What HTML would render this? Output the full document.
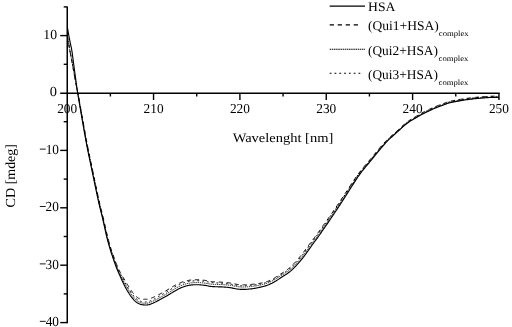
<!DOCTYPE html>
<html><head><meta charset="utf-8"><style>
html,body{margin:0;padding:0;background:#fff;}
svg{display:block;will-change:transform;text-rendering:geometricPrecision;}
text{font-family:"Liberation Serif",serif;fill:#000;}
</style></head><body>
<svg width="512" height="327" viewBox="0 0 512 327">
<rect width="512" height="327" fill="#fff"/>
<g stroke="#000" stroke-width="1.4" fill="none">
<line x1="67.25" y1="6.4" x2="67.25" y2="323.30" stroke-width="1.5"/>
<line x1="60.20" y1="93.28" x2="499.65" y2="93.28" stroke-width="1.45"/>
<line x1="63.70" y1="6.90" x2="67.20" y2="6.90"/><line x1="60.20" y1="35.60" x2="67.20" y2="35.60"/><line x1="63.70" y1="64.30" x2="67.20" y2="64.30"/><line x1="63.70" y1="121.70" x2="67.20" y2="121.70"/><line x1="60.20" y1="150.40" x2="67.20" y2="150.40"/><line x1="63.70" y1="179.10" x2="67.20" y2="179.10"/><line x1="60.20" y1="207.80" x2="67.20" y2="207.80"/><line x1="63.70" y1="236.50" x2="67.20" y2="236.50"/><line x1="60.20" y1="265.20" x2="67.20" y2="265.20"/><line x1="63.70" y1="293.90" x2="67.20" y2="293.90"/><line x1="60.20" y1="322.60" x2="67.20" y2="322.60"/><line x1="110.38" y1="93.00" x2="110.38" y2="96.50"/><line x1="153.55" y1="93.00" x2="153.55" y2="100.00"/><line x1="196.73" y1="93.00" x2="196.73" y2="96.50"/><line x1="239.90" y1="93.00" x2="239.90" y2="100.00"/><line x1="283.07" y1="93.00" x2="283.07" y2="96.50"/><line x1="326.25" y1="93.00" x2="326.25" y2="100.00"/><line x1="369.42" y1="93.00" x2="369.42" y2="96.50"/><line x1="412.60" y1="93.00" x2="412.60" y2="100.00"/><line x1="455.77" y1="93.00" x2="455.77" y2="96.50"/><line x1="498.95" y1="93.00" x2="498.95" y2="100.00"/>
</g>
<g fill="none" stroke="#000">
<path d="M67.40,36.30 L67.47,36.71 L67.56,37.26 L67.67,37.91 L67.79,38.64 L67.92,39.40 L68.05,40.18 L68.18,40.94 L68.30,41.64 L68.41,42.31 L68.52,42.98 L68.63,43.64 L68.74,44.31 L68.86,44.98 L68.97,45.65 L69.08,46.31 L69.20,46.98 L69.32,47.64 L69.44,48.30 L69.56,48.96 L69.69,49.62 L69.81,50.28 L69.94,50.95 L70.07,51.63 L70.20,52.32 L70.33,53.02 L70.46,53.72 L70.60,54.43 L70.73,55.15 L70.87,55.87 L71.01,56.62 L71.15,57.38 L71.30,58.16 L71.45,58.95 L71.60,59.74 L71.76,60.53 L71.91,61.35 L72.07,62.20 L72.24,63.08 L72.42,64.01 L72.60,65.00 L72.79,66.06 L73.00,67.20 L73.21,68.39 L73.42,69.61 L73.64,70.86 L73.87,72.10 L74.08,73.32 L74.30,74.50 L74.51,75.65 L74.72,76.77 L74.94,77.89 L75.15,79.00 L75.36,80.11 L75.58,81.23 L75.79,82.35 L76.00,83.50 L76.22,84.73 L76.46,86.06 L76.71,87.44 L76.96,88.81 L77.19,90.11 L77.39,91.28 L77.57,92.26 L77.70,93.00 L78.54,97.39 L79.46,102.81 L80.51,108.93 L81.64,115.47 L82.80,122.14 L83.95,128.64 L85.04,134.68 L86.00,139.96 L86.85,144.53 L87.66,148.66 L88.42,152.46 L89.16,156.02 L89.88,159.46 L90.60,162.86 L91.34,166.33 L92.10,169.96 L92.88,173.78 L93.69,177.69 L94.51,181.65 L95.33,185.58 L96.13,189.44 L96.92,193.16 L97.68,196.69 L98.40,199.96 L99.07,202.95 L99.72,205.73 L100.35,208.32 L100.96,210.76 L101.55,213.11 L102.12,215.39 L102.68,217.66 L103.22,219.95 L103.75,222.24 L104.26,224.50 L104.75,226.72 L105.22,228.88 L105.68,231.00 L106.14,233.04 L106.60,235.03 L107.06,236.94 L107.52,238.76 L107.97,240.48 L108.42,242.14 L108.86,243.74 L109.31,245.29 L109.76,246.83 L110.22,248.36 L110.71,249.91 L111.22,251.48 L111.76,253.08 L112.32,254.69 L112.88,256.27 L113.43,257.80 L113.95,259.26 L114.45,260.61 L114.89,261.83 L115.28,262.90 L115.63,263.83 L115.94,264.65 L116.22,265.39 L116.50,266.09 L116.78,266.78 L117.07,267.50 L117.39,268.26 L117.73,269.04 L118.05,269.78 L118.37,270.51 L118.71,271.25 L119.07,272.01 L119.46,272.82 L119.89,273.70 L120.36,274.66 L120.89,275.74 L121.47,276.93 L122.08,278.19 L122.73,279.50 L123.38,280.81 L124.03,282.10 L124.67,283.32 L125.28,284.46 L125.86,285.53 L126.45,286.57 L127.04,287.59 L127.63,288.56 L128.20,289.50 L128.76,290.40 L129.30,291.25 L129.82,292.05 L130.30,292.78 L130.76,293.44 L131.19,294.05 L131.59,294.63 L131.99,295.17 L132.38,295.70 L132.79,296.22 L133.20,296.74 L133.62,297.26 L134.02,297.75 L134.42,298.23 L134.80,298.67 L135.19,299.09 L135.58,299.48 L135.98,299.85 L136.40,300.21 L136.84,300.55 L137.32,300.88 L137.81,301.20 L138.31,301.51 L138.82,301.79 L139.33,302.05 L139.83,302.28 L140.31,302.48 L140.78,302.66 L141.24,302.80 L141.69,302.92 L142.14,303.02 L142.60,303.10 L143.08,303.16 L143.58,303.21 L144.11,303.24 L144.67,303.26 L145.23,303.27 L145.79,303.27 L146.35,303.26 L146.91,303.21 L147.49,303.15 L148.07,303.04 L148.68,302.91 L149.31,302.72 L149.99,302.49 L150.71,302.21 L151.46,301.91 L152.22,301.57 L153.00,301.21 L153.78,300.85 L154.55,300.48 L155.29,300.12 L156.04,299.73 L156.79,299.32 L157.55,298.90 L158.32,298.47 L159.09,298.04 L159.87,297.60 L160.65,297.17 L161.41,296.76 L162.14,296.37 L162.86,295.98 L163.57,295.60 L164.29,295.20 L165.04,294.78 L165.84,294.32 L166.68,293.83 L167.60,293.27 L168.61,292.65 L169.68,291.97 L170.78,291.28 L171.89,290.59 L172.97,289.91 L174.00,289.29 L174.95,288.73 L175.81,288.24 L176.60,287.79 L177.35,287.39 L178.07,287.01 L178.77,286.65 L179.48,286.31 L180.20,285.98 L180.94,285.66 L181.71,285.34 L182.48,285.04 L183.25,284.76 L184.03,284.49 L184.81,284.24 L185.58,284.01 L186.36,283.79 L187.14,283.59 L187.92,283.42 L188.69,283.26 L189.46,283.13 L190.23,283.01 L190.99,282.91 L191.74,282.82 L192.50,282.74 L193.26,282.68 L194.03,282.63 L194.81,282.59 L195.58,282.56 L196.35,282.55 L197.12,282.55 L197.89,282.56 L198.65,282.58 L199.42,282.61 L200.19,282.65 L200.96,282.70 L201.73,282.77 L202.50,282.84 L203.26,282.92 L204.01,283.01 L204.76,283.11 L205.52,283.21 L206.30,283.32 L207.07,283.45 L207.81,283.59 L208.54,283.73 L209.25,283.87 L209.93,283.99 L210.60,284.10 L211.26,284.18 L211.94,284.24 L212.62,284.29 L213.33,284.33 L214.04,284.36 L214.77,284.38 L215.50,284.40 L216.25,284.42 L216.99,284.45 L217.71,284.47 L218.42,284.49 L219.13,284.50 L219.85,284.52 L220.58,284.53 L221.34,284.56 L222.13,284.59 L222.94,284.63 L223.77,284.68 L224.62,284.73 L225.50,284.78 L226.40,284.85 L227.32,284.92 L228.25,285.00 L229.19,285.11 L230.15,285.23 L231.13,285.38 L232.12,285.57 L233.10,285.77 L234.06,285.98 L235.00,286.18 L235.90,286.36 L236.74,286.52 L237.54,286.65 L238.31,286.75 L239.06,286.83 L239.77,286.90 L240.46,286.96 L241.14,287.00 L241.84,287.03 L242.55,287.04 L243.28,287.04 L244.05,287.03 L244.84,287.00 L245.66,286.95 L246.49,286.89 L247.33,286.82 L248.16,286.74 L248.97,286.66 L249.75,286.58 L250.49,286.52 L251.19,286.46 L251.86,286.39 L252.52,286.32 L253.17,286.24 L253.83,286.16 L254.50,286.06 L255.20,285.96 L255.93,285.84 L256.71,285.71 L257.51,285.56 L258.32,285.40 L259.12,285.25 L259.88,285.09 L260.59,284.95 L261.23,284.82 L261.77,284.71 L262.23,284.62 L262.60,284.54 L262.93,284.47 L263.23,284.41 L263.55,284.33 L263.92,284.23 L264.37,284.09 L264.90,283.93 L265.47,283.75 L266.06,283.56 L266.68,283.36 L267.31,283.14 L267.95,282.91 L268.58,282.66 L269.22,282.40 L269.87,282.12 L270.54,281.81 L271.22,281.49 L271.92,281.15 L272.61,280.79 L273.31,280.43 L274.00,280.05 L274.68,279.67 L275.34,279.28 L276.01,278.86 L276.69,278.42 L277.38,277.96 L278.07,277.49 L278.77,277.02 L279.48,276.56 L280.18,276.11 L280.88,275.67 L281.57,275.26 L282.25,274.86 L282.91,274.48 L283.56,274.09 L284.21,273.70 L284.85,273.30 L285.50,272.87 L286.17,272.41 L286.84,271.95 L287.51,271.48 L288.18,271.00 L288.85,270.50 L289.51,269.99 L290.17,269.46 L290.82,268.90 L291.48,268.33 L292.13,267.72 L292.78,267.10 L293.44,266.45 L294.10,265.78 L294.76,265.10 L295.43,264.40 L296.10,263.68 L296.77,262.96 L297.45,262.23 L298.13,261.48 L298.81,260.72 L299.48,259.94 L300.16,259.15 L300.83,258.34 L301.51,257.51 L302.18,256.67 L302.85,255.80 L303.52,254.92 L304.20,254.01 L304.88,253.09 L305.56,252.17 L306.24,251.23 L306.93,250.30 L307.62,249.37 L308.30,248.43 L308.98,247.49 L309.66,246.54 L310.35,245.58 L311.05,244.61 L311.76,243.63 L312.49,242.64 L313.25,241.63 L314.03,240.59 L314.82,239.53 L315.62,238.47 L316.41,237.42 L317.19,236.39 L317.94,235.37 L318.65,234.40 L319.33,233.45 L319.97,232.53 L320.60,231.62 L321.21,230.72 L321.82,229.84 L322.41,228.97 L323.00,228.10 L323.60,227.25 L324.15,226.46 L324.65,225.78 L325.11,225.14 L325.57,224.51 L326.07,223.82 L326.65,223.02 L327.32,222.06 L328.14,220.88 L329.13,219.45 L330.27,217.80 L331.52,215.97 L332.83,214.04 L334.18,212.06 L335.52,210.08 L336.81,208.16 L338.02,206.35 L339.13,204.68 L340.16,203.10 L341.16,201.57 L342.15,200.05 L343.16,198.49 L344.21,196.86 L345.35,195.11 L346.59,193.21 L347.94,191.11 L349.39,188.84 L350.92,186.44 L352.50,183.97 L354.11,181.48 L355.72,179.03 L357.33,176.66 L358.91,174.45 L360.46,172.37 L362.01,170.38 L363.57,168.46 L365.12,166.59 L366.67,164.76 L368.22,162.94 L369.76,161.12 L371.30,159.28 L372.88,157.36 L374.50,155.39 L376.14,153.39 L377.77,151.41 L379.35,149.49 L380.87,147.67 L382.29,146.00 L383.58,144.52 L384.72,143.26 L385.73,142.18 L386.63,141.25 L387.46,140.42 L388.26,139.66 L389.05,138.92 L389.87,138.16 L390.75,137.33 L391.69,136.46 L392.67,135.58 L393.66,134.70 L394.65,133.83 L395.63,132.98 L396.59,132.15 L397.52,131.34 L398.39,130.57 L399.22,129.83 L400.00,129.10 L400.75,128.40 L401.48,127.71 L402.19,127.05 L402.89,126.40 L403.60,125.78 L404.31,125.17 L405.02,124.59 L405.72,124.03 L406.41,123.49 L407.09,122.98 L407.77,122.48 L408.45,121.99 L409.14,121.52 L409.83,121.05 L410.53,120.60 L411.21,120.18 L411.88,119.77 L412.56,119.38 L413.25,118.99 L413.96,118.59 L414.69,118.17 L415.45,117.74 L416.25,117.28 L417.08,116.80 L417.94,116.30 L418.82,115.80 L419.71,115.29 L420.60,114.79 L421.49,114.30 L422.36,113.83 L423.22,113.38 L424.09,112.94 L424.95,112.51 L425.82,112.08 L426.68,111.66 L427.55,111.25 L428.41,110.84 L429.27,110.43 L430.14,110.02 L431.00,109.62 L431.87,109.22 L432.73,108.82 L433.60,108.43 L434.46,108.05 L435.33,107.68 L436.19,107.32 L437.04,106.98 L437.90,106.65 L438.75,106.33 L439.60,106.02 L440.45,105.72 L441.30,105.42 L442.15,105.12 L443.00,104.82 L443.83,104.52 L444.62,104.21 L445.41,103.91 L446.20,103.60 L447.03,103.30 L447.92,103.00 L448.88,102.71 L449.93,102.43 L451.09,102.14 L452.35,101.87 L453.67,101.59 L455.05,101.32 L456.46,101.06 L457.88,100.81 L459.29,100.57 L460.66,100.34 L462.00,100.12 L463.36,99.92 L464.71,99.72 L466.07,99.53 L467.42,99.35 L468.77,99.18 L470.12,99.02 L471.47,98.85 L472.83,98.70 L474.22,98.54 L475.62,98.39 L477.01,98.25 L478.38,98.12 L479.71,97.99 L480.98,97.88 L482.18,97.77 L483.31,97.68 L484.40,97.60 L485.45,97.53 L486.44,97.47 L487.40,97.41 L488.30,97.36 L489.17,97.32 L489.99,97.28 L490.76,97.25 L491.47,97.23 L492.12,97.21 L492.74,97.19 L493.33,97.19 L493.89,97.18 L494.45,97.19 L495.00,97.19 L495.57,97.20 L496.15,97.23 L496.73,97.26 L497.27,97.29 L497.78,97.32 L498.24,97.35 L498.62,97.38 L498.91,97.40" stroke-width="0.9" stroke-dasharray="1.3 0.85"/>
<path d="M67.40,35.90 L67.47,36.32 L67.56,36.87 L67.67,37.54 L67.79,38.27 L67.92,39.05 L68.05,39.84 L68.18,40.61 L68.30,41.32 L68.41,42.00 L68.52,42.67 L68.63,43.35 L68.74,44.03 L68.86,44.71 L68.97,45.39 L69.08,46.06 L69.20,46.74 L69.32,47.41 L69.44,48.08 L69.56,48.75 L69.69,49.42 L69.81,50.09 L69.94,50.77 L70.07,51.46 L70.20,52.16 L70.33,52.87 L70.46,53.58 L70.60,54.30 L70.73,55.03 L70.87,55.76 L71.01,56.52 L71.15,57.29 L71.30,58.08 L71.45,58.88 L71.60,59.68 L71.76,60.49 L71.91,61.32 L72.07,62.17 L72.24,63.07 L72.42,64.00 L72.60,65.00 L72.79,66.07 L73.00,67.21 L73.21,68.40 L73.42,69.62 L73.64,70.86 L73.87,72.10 L74.08,73.32 L74.30,74.50 L74.51,75.65 L74.72,76.77 L74.94,77.89 L75.15,79.00 L75.36,80.11 L75.58,81.23 L75.79,82.35 L76.00,83.50 L76.22,84.73 L76.46,86.06 L76.71,87.44 L76.96,88.81 L77.19,90.11 L77.39,91.28 L77.57,92.26 L77.70,93.00 L78.64,97.38 L79.58,102.79 L80.64,108.91 L81.79,115.45 L82.97,122.11 L84.13,128.61 L85.23,134.64 L86.19,139.93 L87.05,144.49 L87.85,148.62 L88.62,152.42 L89.35,155.98 L90.08,159.41 L90.80,162.82 L91.53,166.28 L92.29,169.92 L93.08,173.74 L93.89,177.65 L94.71,181.61 L95.52,185.54 L96.33,189.40 L97.12,193.12 L97.87,196.64 L98.59,199.91 L99.27,202.91 L99.92,205.68 L100.54,208.27 L101.15,210.71 L101.74,213.06 L102.31,215.35 L102.87,217.61 L103.42,219.90 L103.95,222.20 L104.45,224.46 L104.94,226.68 L105.41,228.84 L105.88,230.95 L106.34,233.00 L106.79,234.98 L107.25,236.89 L107.71,238.71 L108.17,240.43 L108.61,242.09 L109.06,243.68 L109.50,245.24 L109.95,246.77 L110.41,248.31 L110.90,249.85 L111.42,251.42 L111.97,253.02 L112.53,254.62 L113.10,256.20 L113.65,257.72 L114.18,259.18 L114.68,260.53 L115.13,261.75 L115.53,262.81 L115.87,263.74 L116.19,264.56 L116.48,265.30 L116.76,266.00 L117.04,266.68 L117.33,267.39 L117.66,268.16 L117.99,268.93 L118.32,269.67 L118.65,270.40 L118.99,271.13 L119.37,271.88 L119.77,272.68 L120.22,273.55 L120.71,274.50 L121.26,275.58 L121.86,276.76 L122.50,278.01 L123.17,279.30 L123.85,280.59 L124.53,281.86 L125.20,283.07 L125.83,284.18 L126.43,285.23 L127.04,286.25 L127.65,287.25 L128.25,288.21 L128.85,289.13 L129.43,290.00 L129.99,290.84 L130.52,291.61 L131.02,292.32 L131.49,292.96 L131.93,293.55 L132.34,294.10 L132.74,294.63 L133.14,295.13 L133.54,295.63 L133.97,296.14 L134.39,296.64 L134.80,297.12 L135.20,297.57 L135.58,297.98 L135.96,298.37 L136.33,298.72 L136.71,299.05 L137.10,299.35 L137.52,299.65 L137.97,299.95 L138.44,300.23 L138.92,300.49 L139.40,300.74 L139.87,300.97 L140.33,301.18 L140.78,301.35 L141.20,301.50 L141.60,301.62 L142.00,301.71 L142.40,301.79 L142.81,301.85 L143.24,301.90 L143.70,301.93 L144.19,301.95 L144.73,301.97 L145.26,301.97 L145.78,301.96 L146.29,301.94 L146.79,301.89 L147.30,301.82 L147.81,301.72 L148.34,301.59 L148.91,301.41 L149.53,301.19 L150.20,300.92 L150.91,300.61 L151.65,300.27 L152.40,299.91 L153.17,299.54 L153.92,299.17 L154.64,298.80 L155.35,298.42 L156.09,298.01 L156.83,297.59 L157.59,297.15 L158.35,296.71 L159.13,296.26 L159.91,295.81 L160.67,295.38 L161.40,294.98 L162.11,294.59 L162.82,294.19 L163.53,293.79 L164.27,293.37 L165.04,292.92 L165.87,292.43 L166.77,291.88 L167.77,291.26 L168.83,290.58 L169.92,289.89 L171.03,289.18 L172.11,288.50 L173.16,287.86 L174.13,287.28 L175.00,286.78 L175.81,286.32 L176.57,285.90 L177.31,285.51 L178.04,285.13 L178.78,284.77 L179.53,284.43 L180.30,284.09 L181.09,283.76 L181.89,283.44 L182.70,283.15 L183.50,282.86 L184.31,282.60 L185.12,282.35 L185.94,282.12 L186.75,281.91 L187.57,281.72 L188.39,281.55 L189.20,281.40 L190.00,281.28 L190.79,281.17 L191.58,281.07 L192.36,280.99 L193.14,280.92 L193.95,280.86 L194.75,280.82 L195.56,280.79 L196.36,280.77 L197.15,280.77 L197.94,280.78 L198.73,280.79 L199.52,280.82 L200.31,280.85 L201.11,280.93 L201.90,281.01 L202.69,281.10 L203.46,281.20 L204.23,281.30 L204.99,281.41 L205.77,281.53 L206.58,281.66 L207.37,281.82 L208.13,281.97 L208.86,282.13 L209.55,282.27 L210.21,282.41 L210.84,282.52 L211.45,282.61 L212.08,282.68 L212.73,282.74 L213.41,282.79 L214.10,282.84 L214.82,282.87 L215.55,282.91 L216.31,282.94 L217.05,282.98 L217.77,283.02 L218.46,283.06 L219.16,283.08 L219.89,283.11 L220.63,283.14 L221.40,283.18 L222.20,283.23 L223.03,283.29 L223.86,283.35 L224.71,283.42 L225.59,283.49 L226.50,283.57 L227.43,283.67 L228.38,283.77 L229.34,283.89 L230.32,284.03 L231.33,284.20 L232.35,284.39 L233.35,284.60 L234.31,284.81 L235.25,285.01 L236.13,285.19 L236.95,285.34 L237.71,285.46 L238.46,285.56 L239.18,285.64 L239.87,285.71 L240.54,285.76 L241.20,285.80 L241.87,285.83 L242.56,285.84 L243.27,285.84 L244.01,285.83 L244.78,285.80 L245.58,285.75 L246.40,285.69 L247.22,285.62 L248.04,285.54 L248.85,285.47 L249.63,285.39 L250.36,285.34 L251.05,285.29 L251.71,285.23 L252.36,285.18 L253.00,285.11 L253.65,285.04 L254.31,284.95 L255.00,284.86 L255.72,284.76 L256.49,284.64 L257.29,284.50 L258.09,284.36 L258.89,284.22 L259.65,284.07 L260.36,283.94 L261.00,283.82 L261.55,283.72 L262.00,283.63 L262.38,283.56 L262.69,283.50 L262.97,283.45 L263.27,283.38 L263.62,283.29 L264.07,283.17 L264.59,283.01 L265.16,282.85 L265.75,282.67 L266.36,282.48 L266.98,282.27 L267.60,282.06 L268.23,281.83 L268.85,281.58 L269.49,281.30 L270.15,281.00 L270.82,280.68 L271.50,280.35 L272.19,280.00 L272.87,279.64 L273.55,279.27 L274.22,278.90 L274.86,278.52 L275.52,278.11 L276.19,277.68 L276.87,277.22 L277.56,276.76 L278.26,276.28 L278.97,275.81 L279.69,275.35 L280.40,274.91 L281.10,274.49 L281.78,274.10 L282.44,273.71 L283.09,273.33 L283.72,272.94 L284.35,272.55 L284.99,272.13 L285.65,271.68 L286.32,271.22 L286.98,270.75 L287.64,270.28 L288.29,269.79 L288.94,269.29 L289.59,268.77 L290.23,268.23 L290.86,267.67 L291.50,267.08 L292.15,266.46 L292.79,265.82 L293.44,265.16 L294.10,264.48 L294.76,263.79 L295.43,263.08 L296.10,262.36 L296.78,261.63 L297.45,260.89 L298.12,260.13 L298.80,259.36 L299.47,258.58 L300.14,257.78 L300.81,256.96 L301.48,256.13 L302.15,255.28 L302.83,254.40 L303.50,253.50 L304.18,252.59 L304.87,251.66 L305.55,250.73 L306.25,249.80 L306.93,248.88 L307.61,247.95 L308.30,247.01 L308.98,246.06 L309.68,245.11 L310.38,244.14 L311.10,243.16 L311.84,242.17 L312.60,241.15 L313.38,240.11 L314.18,239.06 L314.99,238.00 L315.78,236.96 L316.56,235.92 L317.31,234.92 L318.02,233.95 L318.70,233.02 L319.35,232.10 L319.98,231.19 L320.59,230.30 L321.19,229.42 L321.79,228.55 L322.39,227.68 L322.99,226.83 L323.55,226.04 L324.05,225.35 L324.52,224.72 L324.98,224.09 L325.49,223.40 L326.06,222.61 L326.74,221.66 L327.56,220.49 L328.55,219.06 L329.70,217.41 L330.95,215.59 L332.28,213.67 L333.64,211.70 L334.99,209.72 L336.29,207.81 L337.51,206.02 L338.62,204.35 L339.67,202.78 L340.67,201.26 L341.67,199.74 L342.68,198.19 L343.75,196.56 L344.89,194.82 L346.14,192.92 L347.51,190.83 L348.97,188.57 L350.51,186.18 L352.10,183.71 L353.73,181.23 L355.36,178.78 L356.99,176.43 L358.58,174.21 L360.14,172.13 L361.70,170.13 L363.26,168.21 L364.82,166.35 L366.38,164.51 L367.93,162.70 L369.48,160.88 L371.02,159.04 L372.59,157.13 L374.22,155.16 L375.86,153.16 L377.49,151.18 L379.08,149.27 L380.61,147.45 L382.03,145.78 L383.33,144.30 L384.47,143.03 L385.48,141.95 L386.39,141.02 L387.23,140.19 L388.03,139.42 L388.82,138.68 L389.64,137.92 L390.53,137.10 L391.48,136.22 L392.45,135.34 L393.45,134.47 L394.44,133.60 L395.43,132.75 L396.39,131.92 L397.31,131.11 L398.19,130.34 L399.01,129.60 L399.79,128.88 L400.54,128.17 L401.26,127.48 L401.96,126.81 L402.67,126.15 L403.37,125.52 L404.08,124.90 L404.79,124.31 L405.49,123.74 L406.17,123.19 L406.86,122.67 L407.54,122.16 L408.22,121.66 L408.91,121.18 L409.60,120.70 L410.30,120.24 L410.98,119.80 L411.66,119.39 L412.34,118.98 L413.03,118.58 L413.73,118.18 L414.45,117.76 L415.21,117.32 L416.00,116.85 L416.83,116.36 L417.68,115.85 L418.56,115.34 L419.44,114.82 L420.33,114.31 L421.22,113.81 L422.09,113.33 L422.96,112.87 L423.82,112.41 L424.69,111.97 L425.55,111.54 L426.42,111.12 L427.29,110.71 L428.15,110.29 L429.02,109.89 L429.88,109.48 L430.75,109.07 L431.62,108.67 L432.48,108.27 L433.35,107.88 L434.22,107.50 L435.09,107.13 L435.96,106.77 L436.83,106.42 L437.69,106.09 L438.54,105.77 L439.39,105.46 L440.25,105.16 L441.10,104.86 L441.95,104.56 L442.79,104.25 L443.61,103.95 L444.40,103.65 L445.19,103.34 L445.99,103.03 L446.83,102.72 L447.73,102.42 L448.71,102.12 L449.78,101.83 L450.95,101.54 L452.22,101.26 L453.55,100.98 L454.94,100.71 L456.35,100.45 L457.77,100.19 L459.18,99.94 L460.55,99.71 L461.91,99.49 L463.26,99.28 L464.62,99.09 L465.98,98.90 L467.34,98.71 L468.69,98.54 L470.04,98.37 L471.39,98.21 L472.76,98.05 L474.15,97.90 L475.55,97.76 L476.95,97.62 L478.32,97.48 L479.65,97.36 L480.92,97.25 L482.13,97.14 L483.27,97.05 L484.36,96.97 L485.40,96.90 L486.40,96.84 L487.36,96.79 L488.27,96.75 L489.14,96.70 L489.96,96.67 L490.73,96.64 L491.44,96.61 L492.11,96.59 L492.73,96.58 L493.32,96.58 L493.89,96.57 L494.45,96.58 L495.01,96.58 L495.59,96.60 L496.18,96.62 L496.76,96.65 L497.31,96.69 L497.82,96.72 L498.28,96.75 L498.66,96.78 L498.95,96.80" stroke-width="1.0" stroke-dasharray="1.8 3"/>
<path d="M67.40,35.50 L67.47,35.92 L67.56,36.49 L67.67,37.16 L67.79,37.91 L67.92,38.70 L68.05,39.50 L68.18,40.27 L68.30,41.00 L68.41,41.69 L68.52,42.38 L68.63,43.06 L68.74,43.75 L68.86,44.44 L68.97,45.12 L69.08,45.81 L69.20,46.50 L69.32,47.18 L69.44,47.86 L69.56,48.54 L69.69,49.22 L69.81,49.90 L69.94,50.59 L70.07,51.29 L70.20,52.00 L70.33,52.72 L70.46,53.44 L70.60,54.17 L70.73,54.91 L70.87,55.65 L71.01,56.42 L71.15,57.20 L71.30,58.00 L71.45,58.81 L71.60,59.62 L71.76,60.44 L71.91,61.28 L72.07,62.15 L72.24,63.05 L72.42,64.00 L72.60,65.00 L72.79,66.07 L73.00,67.21 L73.21,68.40 L73.42,69.62 L73.64,70.86 L73.87,72.10 L74.08,73.32 L74.30,74.50 L74.51,75.65 L74.72,76.77 L74.94,77.89 L75.15,79.00 L75.36,80.11 L75.58,81.23 L75.79,82.35 L76.00,83.50 L76.22,84.73 L76.46,86.06 L76.71,87.44 L76.96,88.81 L77.19,90.11 L77.39,91.28 L77.57,92.26 L77.70,93.00 L78.75,97.36 L79.70,102.77 L80.77,108.89 L81.94,115.42 L83.13,122.08 L84.31,128.58 L85.43,134.61 L86.40,139.89 L87.26,144.45 L88.07,148.58 L88.83,152.37 L89.58,155.93 L90.30,159.37 L91.03,162.77 L91.77,166.23 L92.53,169.87 L93.33,173.69 L94.14,177.60 L94.96,181.56 L95.78,185.49 L96.60,189.34 L97.39,193.06 L98.15,196.58 L98.87,199.85 L99.55,202.84 L100.21,205.61 L100.84,208.20 L101.45,210.64 L102.04,212.98 L102.62,215.27 L103.19,217.54 L103.74,219.83 L104.28,222.13 L104.79,224.39 L105.28,226.60 L105.76,228.77 L106.22,230.88 L106.69,232.92 L107.15,234.90 L107.61,236.80 L108.08,238.61 L108.53,240.34 L108.98,241.99 L109.43,243.58 L109.88,245.13 L110.33,246.66 L110.79,248.19 L111.29,249.73 L111.81,251.29 L112.37,252.89 L112.93,254.49 L113.50,256.06 L114.06,257.58 L114.60,259.03 L115.11,260.38 L115.56,261.60 L115.96,262.66 L116.31,263.58 L116.63,264.40 L116.92,265.13 L117.20,265.83 L117.48,266.51 L117.78,267.22 L118.11,267.98 L118.45,268.75 L118.77,269.48 L119.10,270.20 L119.45,270.93 L119.87,271.66 L120.31,272.44 L120.80,273.29 L121.33,274.22 L121.94,275.27 L122.60,276.43 L123.30,277.65 L124.03,278.91 L124.77,280.17 L125.51,281.40 L126.24,282.56 L126.90,283.64 L127.49,284.67 L128.09,285.68 L128.70,286.66 L129.30,287.61 L129.89,288.52 L130.46,289.39 L131.02,290.21 L131.54,290.98 L132.04,291.68 L132.49,292.31 L132.92,292.88 L133.35,293.39 L133.77,293.88 L134.19,294.34 L134.62,294.80 L135.07,295.27 L135.52,295.74 L135.95,296.19 L136.36,296.59 L136.75,296.95 L137.13,297.27 L137.49,297.55 L137.84,297.79 L138.20,298.01 L138.60,298.22 L139.02,298.44 L139.46,298.64 L139.91,298.82 L140.36,298.98 L140.80,299.12 L141.22,299.24 L141.60,299.32 L141.96,299.37 L142.29,299.40 L142.60,299.41 L142.91,299.41 L143.22,299.39 L143.56,299.36 L143.94,299.32 L144.37,299.28 L144.85,299.22 L145.32,299.19 L145.75,299.24 L146.16,299.27 L146.55,299.29 L146.94,299.29 L147.34,299.28 L147.74,299.24 L148.21,299.16 L148.76,299.03 L149.39,298.85 L150.07,298.63 L150.80,298.35 L151.55,298.04 L152.32,297.72 L153.07,297.40 L153.78,297.08 L154.49,296.76 L155.22,296.40 L155.97,296.03 L156.74,295.63 L157.53,295.23 L158.33,294.81 L159.15,294.40 L159.94,294.01 L160.69,293.64 L161.42,293.28 L162.14,292.93 L162.86,292.57 L163.59,292.16 L164.36,291.72 L165.18,291.25 L166.07,290.71 L167.07,290.11 L168.13,289.45 L169.23,288.76 L170.34,288.07 L171.44,287.39 L172.51,286.75 L173.50,286.17 L174.39,285.67 L175.21,285.22 L175.99,284.80 L176.75,284.40 L177.51,284.02 L178.27,283.66 L179.04,283.31 L179.84,282.97 L180.66,282.64 L181.48,282.32 L182.31,282.03 L183.14,281.74 L183.98,281.48 L184.81,281.23 L185.65,281.01 L186.50,280.80 L187.35,280.61 L188.19,280.44 L189.03,280.30 L189.85,280.18 L190.67,280.07 L191.47,279.99 L192.27,279.91 L193.07,279.85 L193.89,279.80 L194.72,279.76 L195.54,279.74 L196.36,279.73 L197.17,279.74 L197.98,279.75 L198.77,279.78 L199.57,279.81 L200.38,279.86 L201.19,279.93 L202.00,280.01 L202.79,280.10 L203.58,280.20 L204.36,280.31 L205.12,280.42 L205.91,280.54 L206.74,280.68 L207.56,280.83 L208.33,280.99 L209.05,281.15 L209.74,281.29 L210.38,281.42 L210.98,281.53 L211.56,281.62 L212.16,281.69 L212.80,281.75 L213.46,281.80 L214.15,281.84 L214.86,281.87 L215.59,281.91 L216.34,281.94 L217.09,281.99 L217.80,282.02 L218.49,282.06 L219.19,282.08 L219.91,282.11 L220.66,282.14 L221.44,282.18 L222.25,282.23 L223.09,282.29 L223.93,282.35 L224.78,282.42 L225.67,282.50 L226.58,282.58 L227.52,282.67 L228.48,282.78 L229.46,282.90 L230.47,283.05 L231.51,283.22 L232.54,283.42 L233.55,283.63 L234.52,283.84 L235.45,284.05 L236.31,284.23 L237.11,284.39 L237.85,284.51 L238.58,284.60 L239.29,284.69 L239.96,284.76 L240.61,284.82 L241.25,284.86 L241.90,284.89 L242.57,284.90 L243.27,284.91 L243.98,284.90 L244.73,284.88 L245.52,284.83 L246.32,284.78 L247.14,284.71 L247.96,284.64 L248.76,284.57 L249.53,284.49 L250.26,284.46 L250.94,284.42 L251.60,284.37 L252.24,284.33 L252.87,284.27 L253.51,284.21 L254.17,284.14 L254.85,284.06 L255.57,283.97 L256.33,283.86 L257.12,283.74 L257.93,283.61 L258.72,283.48 L259.48,283.35 L260.19,283.23 L260.84,283.11 L261.39,283.02 L261.85,282.94 L262.22,282.88 L262.52,282.83 L262.79,282.78 L263.08,282.72 L263.42,282.64 L263.86,282.52 L264.38,282.38 L264.94,282.22 L265.53,282.06 L266.14,281.88 L266.75,281.68 L267.37,281.48 L267.99,281.26 L268.60,281.03 L269.23,280.75 L269.88,280.45 L270.54,280.13 L271.22,279.80 L271.89,279.45 L272.57,279.09 L273.24,278.73 L273.89,278.36 L274.52,277.98 L275.16,277.57 L275.82,277.14 L276.49,276.68 L277.18,276.21 L277.88,275.74 L278.60,275.26 L279.32,274.79 L280.04,274.34 L280.74,273.91 L281.42,273.51 L282.08,273.12 L282.72,272.73 L283.35,272.35 L283.96,271.96 L284.59,271.55 L285.24,271.10 L285.90,270.64 L286.55,270.17 L287.20,269.70 L287.84,269.21 L288.48,268.72 L289.11,268.21 L289.73,267.68 L290.35,267.12 L290.98,266.54 L291.61,265.93 L292.24,265.29 L292.89,264.63 L293.54,263.96 L294.19,263.26 L294.86,262.55 L295.52,261.83 L296.19,261.10 L296.85,260.36 L297.52,259.61 L298.19,258.85 L298.86,258.07 L299.53,257.28 L300.20,256.48 L300.87,255.66 L301.53,254.81 L302.21,253.94 L302.88,253.05 L303.57,252.14 L304.25,251.22 L304.95,250.29 L305.64,249.37 L306.33,248.44 L307.01,247.52 L307.70,246.58 L308.39,245.64 L309.09,244.69 L309.80,243.72 L310.52,242.74 L311.26,241.75 L312.03,240.73 L312.82,239.69 L313.62,238.64 L314.43,237.59 L315.23,236.55 L316.01,235.52 L316.77,234.52 L317.48,233.56 L318.15,232.64 L318.80,231.72 L319.43,230.83 L320.05,229.94 L320.65,229.06 L321.26,228.19 L321.86,227.32 L322.47,226.46 L323.04,225.68 L323.54,224.99 L324.01,224.35 L324.48,223.72 L324.98,223.04 L325.55,222.26 L326.23,221.31 L327.06,220.14 L328.06,218.72 L329.21,217.08 L330.47,215.27 L331.80,213.35 L333.17,211.38 L334.52,209.42 L335.83,207.51 L337.06,205.72 L338.18,204.06 L339.22,202.50 L340.23,200.98 L341.23,199.46 L342.25,197.91 L343.33,196.29 L344.48,194.55 L345.73,192.66 L347.11,190.58 L348.58,188.32 L350.12,185.94 L351.72,183.48 L353.36,181.00 L355.01,178.55 L356.64,176.19 L358.25,173.97 L359.83,171.89 L361.39,169.89 L362.96,167.97 L364.53,166.10 L366.09,164.27 L367.64,162.46 L369.19,160.64 L370.73,158.80 L372.31,156.90 L373.93,154.93 L375.58,152.93 L377.22,150.96 L378.81,149.04 L380.34,147.23 L381.77,145.56 L383.07,144.07 L384.22,142.80 L385.24,141.72 L386.15,140.78 L387.00,139.95 L387.80,139.18 L388.60,138.44 L389.42,137.68 L390.31,136.86 L391.26,135.99 L392.24,135.11 L393.24,134.23 L394.24,133.36 L395.22,132.51 L396.19,131.69 L397.11,130.89 L397.98,130.12 L398.81,129.38 L399.59,128.66 L400.33,127.95 L401.05,127.26 L401.75,126.58 L402.46,125.92 L403.16,125.28 L403.88,124.65 L404.59,124.06 L405.29,123.48 L405.98,122.93 L406.66,122.40 L407.35,121.89 L408.03,121.39 L408.72,120.90 L409.41,120.42 L410.11,119.95 L410.80,119.51 L411.48,119.09 L412.16,118.68 L412.85,118.28 L413.55,117.87 L414.28,117.45 L415.03,117.00 L415.82,116.53 L416.65,116.04 L417.50,115.53 L418.37,115.01 L419.26,114.49 L420.15,113.98 L421.03,113.47 L421.91,112.99 L422.78,112.52 L423.64,112.06 L424.51,111.61 L425.38,111.18 L426.25,110.76 L427.11,110.34 L427.98,109.93 L428.85,109.52 L429.71,109.12 L430.58,108.71 L431.45,108.31 L432.32,107.91 L433.19,107.52 L434.06,107.13 L434.94,106.76 L435.81,106.40 L436.68,106.05 L437.54,105.71 L438.40,105.39 L439.26,105.08 L440.11,104.78 L440.96,104.48 L441.81,104.18 L442.66,103.88 L443.47,103.58 L444.26,103.27 L445.04,102.97 L445.85,102.66 L446.70,102.35 L447.61,102.04 L448.59,101.74 L449.68,101.44 L450.86,101.15 L452.13,100.87 L453.47,100.59 L454.86,100.32 L456.28,100.05 L457.70,99.80 L459.11,99.55 L460.49,99.32 L461.84,99.10 L463.20,98.89 L464.56,98.69 L465.92,98.50 L467.28,98.32 L468.64,98.14 L469.99,97.97 L471.35,97.81 L472.71,97.66 L474.11,97.50 L475.51,97.36 L476.91,97.22 L478.28,97.09 L479.61,96.96 L480.89,96.85 L482.09,96.75 L483.23,96.65 L484.33,96.57 L485.38,96.51 L486.38,96.44 L487.34,96.39 L488.25,96.35 L489.12,96.30 L489.94,96.27 L490.72,96.24 L491.43,96.21 L492.10,96.19 L492.72,96.18 L493.32,96.18 L493.89,96.17 L494.45,96.18 L495.02,96.18 L495.60,96.20 L496.20,96.22 L496.78,96.25 L497.34,96.29 L497.85,96.32 L498.31,96.35 L498.68,96.38 L498.97,96.40" stroke-width="1.0" stroke-dasharray="4.3 3.7"/>
<path d="M67.40,27.50 L67.51,28.12 L67.65,28.94 L67.81,29.91 L68.00,31.00 L68.20,32.15 L68.40,33.31 L68.61,34.45 L68.80,35.50 L68.99,36.50 L69.19,37.51 L69.39,38.52 L69.59,39.53 L69.80,40.54 L70.00,41.54 L70.20,42.52 L70.40,43.50 L70.59,44.42 L70.77,45.26 L70.95,46.06 L71.13,46.88 L71.31,47.73 L71.50,48.68 L71.69,49.75 L71.90,51.00 L72.12,52.44 L72.35,54.04 L72.58,55.77 L72.83,57.59 L73.07,59.46 L73.32,61.35 L73.56,63.21 L73.80,65.00 L74.04,66.75 L74.27,68.50 L74.51,70.25 L74.74,72.00 L74.98,73.75 L75.22,75.50 L75.46,77.25 L75.70,79.00 L75.90,80.52 L76.05,81.73 L76.17,82.80 L76.31,83.94 L76.50,85.33 L76.77,87.18 L77.16,89.67 L77.70,93.00 L78.43,97.41 L79.34,102.83 L80.38,108.96 L81.49,115.50 L82.64,122.17 L83.77,128.67 L84.84,134.71 L85.80,140.00 L86.66,144.56 L87.46,148.70 L88.23,152.50 L88.96,156.06 L89.69,159.50 L90.41,162.90 L91.14,166.37 L91.90,170.00 L92.69,173.82 L93.50,177.73 L94.31,181.69 L95.13,185.62 L95.94,189.48 L96.73,193.20 L97.48,196.73 L98.20,200.00 L98.88,203.00 L99.53,205.77 L100.15,208.36 L100.76,210.81 L101.34,213.16 L101.91,215.45 L102.46,217.71 L103.00,220.00 L103.52,222.30 L104.02,224.55 L104.51,226.77 L104.97,228.94 L105.43,231.05 L105.89,233.10 L106.34,235.09 L106.80,237.00 L107.26,238.82 L107.70,240.55 L108.15,242.21 L108.59,243.81 L109.03,245.37 L109.48,246.91 L109.93,248.45 L110.40,250.00 L110.89,251.59 L111.41,253.20 L111.94,254.81 L112.48,256.41 L113.00,257.95 L113.50,259.41 L113.97,260.77 L114.40,262.00 L114.77,263.08 L115.10,264.01 L115.40,264.84 L115.67,265.59 L115.94,266.30 L116.21,267.00 L116.49,267.73 L116.80,268.50 L117.12,269.29 L117.43,270.04 L117.74,270.78 L118.06,271.53 L118.40,272.31 L118.76,273.13 L119.16,274.02 L119.60,275.00 L120.09,276.10 L120.63,277.31 L121.20,278.59 L121.80,279.92 L122.41,281.26 L123.02,282.57 L123.62,283.83 L124.20,285.00 L124.77,286.10 L125.34,287.17 L125.91,288.21 L126.48,289.22 L127.03,290.19 L127.58,291.11 L128.10,291.98 L128.60,292.80 L129.07,293.56 L129.52,294.25 L129.95,294.89 L130.36,295.49 L130.77,296.06 L131.17,296.61 L131.58,297.14 L132.00,297.68 L132.42,298.21 L132.83,298.72 L133.24,299.22 L133.64,299.69 L134.06,300.15 L134.49,300.59 L134.93,301.01 L135.40,301.42 L135.89,301.80 L136.41,302.18 L136.95,302.54 L137.49,302.88 L138.05,303.19 L138.60,303.49 L139.16,303.75 L139.70,303.99 L140.23,304.19 L140.76,304.37 L141.28,304.51 L141.80,304.64 L142.33,304.74 L142.87,304.82 L143.42,304.88 L144.00,304.92 L144.59,304.95 L145.19,304.97 L145.81,304.98 L146.43,304.96 L147.07,304.92 L147.73,304.84 L148.40,304.73 L149.10,304.57 L149.82,304.37 L150.57,304.12 L151.34,303.83 L152.13,303.50 L152.93,303.16 L153.72,302.80 L154.52,302.43 L155.30,302.06 L156.08,301.69 L156.85,301.29 L157.63,300.88 L158.41,300.45 L159.18,300.02 L159.96,299.59 L160.73,299.16 L161.50,298.74 L162.25,298.33 L162.98,297.95 L163.70,297.56 L164.42,297.18 L165.16,296.78 L165.92,296.36 L166.73,295.91 L167.60,295.41 L168.55,294.85 L169.58,294.23 L170.66,293.56 L171.77,292.88 L172.87,292.20 L173.95,291.54 L174.97,290.94 L175.90,290.40 L176.74,289.93 L177.52,289.50 L178.25,289.11 L178.95,288.76 L179.63,288.42 L180.30,288.11 L180.99,287.80 L181.70,287.50 L182.43,287.21 L183.17,286.93 L183.91,286.67 L184.65,286.42 L185.39,286.19 L186.13,285.97 L186.87,285.78 L187.60,285.60 L188.33,285.44 L189.05,285.30 L189.78,285.18 L190.50,285.08 L191.22,284.99 L191.95,284.92 L192.67,284.85 L193.40,284.80 L194.13,284.76 L194.87,284.73 L195.61,284.71 L196.34,284.71 L197.08,284.72 L197.82,284.74 L198.56,284.76 L199.30,284.80 L200.04,284.84 L200.78,284.90 L201.52,284.97 L202.26,285.04 L202.99,285.13 L203.73,285.22 L204.47,285.32 L205.20,285.42 L205.93,285.53 L206.65,285.66 L207.38,285.80 L208.10,285.95 L208.82,286.09 L209.55,286.22 L210.27,286.34 L211.00,286.44 L211.73,286.51 L212.47,286.57 L213.21,286.61 L213.94,286.65 L214.68,286.67 L215.42,286.70 L216.16,286.73 L216.90,286.76 L217.63,286.79 L218.35,286.81 L219.06,286.83 L219.78,286.85 L220.51,286.87 L221.25,286.90 L222.01,286.93 L222.80,286.98 L223.62,287.03 L224.46,287.08 L225.33,287.14 L226.21,287.21 L227.10,287.29 L228.00,287.38 L228.90,287.48 L229.80,287.60 L230.71,287.75 L231.65,287.92 L232.60,288.12 L233.56,288.32 L234.50,288.53 L235.43,288.72 L236.33,288.89 L237.20,289.02 L238.02,289.13 L238.80,289.22 L239.56,289.29 L240.29,289.35 L241.03,289.40 L241.76,289.43 L242.52,289.44 L243.30,289.44 L244.12,289.43 L244.96,289.40 L245.82,289.34 L246.68,289.28 L247.54,289.21 L248.39,289.13 L249.21,289.05 L250.00,288.97 L250.75,288.89 L251.47,288.81 L252.16,288.72 L252.84,288.63 L253.51,288.53 L254.19,288.43 L254.88,288.31 L255.60,288.19 L256.36,288.04 L257.16,287.88 L257.97,287.71 L258.79,287.53 L259.60,287.35 L260.36,287.18 L261.07,287.02 L261.70,286.87 L262.23,286.75 L262.68,286.65 L263.07,286.56 L263.42,286.48 L263.76,286.39 L264.12,286.29 L264.53,286.17 L265.00,286.02 L265.54,285.84 L266.12,285.64 L266.72,285.43 L267.36,285.20 L268.01,284.96 L268.67,284.70 L269.33,284.43 L270.00,284.13 L270.67,283.82 L271.36,283.49 L272.06,283.15 L272.77,282.78 L273.48,282.41 L274.19,282.02 L274.90,281.62 L275.60,281.21 L276.29,280.78 L276.99,280.33 L277.68,279.86 L278.37,279.38 L279.06,278.90 L279.74,278.43 L280.42,277.96 L281.10,277.51 L281.77,277.08 L282.44,276.67 L283.10,276.26 L283.76,275.86 L284.41,275.46 L285.07,275.04 L285.73,274.61 L286.40,274.16 L287.07,273.68 L287.75,273.20 L288.42,272.71 L289.10,272.20 L289.78,271.68 L290.45,271.14 L291.13,270.58 L291.80,270.00 L292.47,269.39 L293.13,268.75 L293.79,268.10 L294.45,267.43 L295.11,266.74 L295.77,266.04 L296.43,265.33 L297.10,264.60 L297.77,263.86 L298.44,263.11 L299.12,262.35 L299.79,261.57 L300.47,260.78 L301.15,259.97 L301.82,259.14 L302.50,258.30 L303.17,257.44 L303.85,256.55 L304.52,255.65 L305.19,254.74 L305.87,253.81 L306.54,252.88 L307.22,251.94 L307.90,251.00 L308.58,250.06 L309.25,249.12 L309.93,248.17 L310.61,247.21 L311.29,246.25 L311.98,245.28 L312.68,244.29 L313.40,243.30 L314.14,242.28 L314.91,241.24 L315.70,240.18 L316.49,239.12 L317.27,238.06 L318.05,237.01 L318.79,235.99 L319.50,235.00 L320.17,234.04 L320.82,233.10 L321.44,232.18 L322.05,231.28 L322.64,230.39 L323.23,229.52 L323.81,228.65 L324.40,227.80 L324.95,227.02 L325.43,226.34 L325.88,225.70 L326.34,225.06 L326.84,224.37 L327.41,223.56 L328.09,222.59 L328.90,221.40 L329.88,219.96 L331.01,218.29 L332.24,216.46 L333.55,214.53 L334.89,212.53 L336.22,210.54 L337.50,208.61 L338.70,206.80 L339.80,205.12 L340.83,203.53 L341.82,201.99 L342.80,200.46 L343.80,198.90 L344.85,197.26 L345.97,195.51 L347.20,193.60 L348.55,191.49 L349.99,189.21 L351.50,186.80 L353.06,184.32 L354.66,181.83 L356.26,179.38 L357.84,177.02 L359.40,174.80 L360.93,172.72 L362.47,170.74 L364.01,168.82 L365.55,166.95 L367.09,165.11 L368.63,163.29 L370.17,161.46 L371.70,159.60 L373.26,157.68 L374.88,155.69 L376.51,153.69 L378.12,151.70 L379.70,149.78 L381.21,147.96 L382.62,146.28 L383.90,144.80 L385.03,143.53 L386.02,142.46 L386.91,141.53 L387.74,140.70 L388.52,139.94 L389.31,139.19 L390.12,138.43 L391.00,137.60 L391.94,136.72 L392.90,135.84 L393.89,134.96 L394.88,134.09 L395.85,133.23 L396.81,132.39 L397.73,131.58 L398.60,130.80 L399.42,130.05 L400.20,129.32 L400.95,128.62 L401.68,127.93 L402.39,127.27 L403.09,126.63 L403.79,126.00 L404.50,125.40 L405.21,124.82 L405.90,124.26 L406.59,123.73 L407.27,123.22 L407.95,122.72 L408.63,122.24 L409.31,121.77 L410.00,121.30 L410.69,120.85 L411.36,120.43 L412.04,120.03 L412.71,119.64 L413.40,119.25 L414.11,118.85 L414.84,118.44 L415.60,118.00 L416.40,117.54 L417.23,117.06 L418.09,116.56 L418.97,116.06 L419.86,115.55 L420.74,115.05 L421.63,114.57 L422.50,114.10 L423.36,113.65 L424.23,113.21 L425.09,112.78 L425.95,112.35 L426.81,111.93 L427.68,111.52 L428.54,111.11 L429.40,110.70 L430.26,110.29 L431.13,109.89 L431.99,109.49 L432.86,109.09 L433.72,108.71 L434.58,108.33 L435.44,107.96 L436.30,107.60 L437.15,107.26 L438.00,106.93 L438.85,106.61 L439.70,106.31 L440.55,106.00 L441.40,105.70 L442.25,105.40 L443.10,105.10 L443.93,104.79 L444.73,104.49 L445.51,104.18 L446.31,103.88 L447.13,103.57 L448.01,103.28 L448.95,102.98 L450.00,102.70 L451.15,102.42 L452.41,102.14 L453.73,101.86 L455.11,101.59 L456.51,101.33 L457.93,101.08 L459.33,100.83 L460.70,100.60 L462.05,100.38 L463.40,100.17 L464.75,99.98 L466.10,99.79 L467.45,99.61 L468.80,99.43 L470.15,99.26 L471.50,99.10 L472.86,98.94 L474.25,98.78 L475.65,98.63 L477.04,98.49 L478.40,98.35 L479.73,98.22 L481.00,98.11 L482.20,98.00 L483.33,97.91 L484.42,97.82 L485.46,97.75 L486.46,97.69 L487.41,97.63 L488.31,97.58 L489.18,97.54 L490.00,97.50 L490.77,97.47 L491.47,97.44 L492.13,97.42 L492.74,97.41 L493.33,97.40 L493.89,97.39 L494.45,97.40 L495.00,97.40 L495.57,97.41 L496.14,97.43 L496.71,97.46 L497.26,97.49 L497.77,97.53 L498.22,97.56 L498.61,97.58 L498.90,97.60" stroke-width="1.15"/>
</g>
<text x="57.00" y="38.90" text-anchor="end" font-size="13.8" textLength="13.70" lengthAdjust="spacingAndGlyphs">10</text><text x="57.00" y="96.30" text-anchor="end" font-size="13.8" textLength="7.20" lengthAdjust="spacingAndGlyphs">0</text><rect x="39.8" y="148.65" width="5.9" height="0.9" fill="#000"/><text x="59.00" y="153.70" text-anchor="end" font-size="13.8" textLength="13.30" lengthAdjust="spacingAndGlyphs">10</text><rect x="39.8" y="206.05" width="5.9" height="0.9" fill="#000"/><text x="58.90" y="211.10" text-anchor="end" font-size="13.8" textLength="13.30" lengthAdjust="spacingAndGlyphs">20</text><rect x="39.8" y="263.45" width="5.9" height="0.9" fill="#000"/><text x="58.90" y="268.50" text-anchor="end" font-size="13.8" textLength="13.30" lengthAdjust="spacingAndGlyphs">30</text><rect x="39.8" y="320.85" width="5.9" height="0.9" fill="#000"/><text x="59.00" y="325.90" text-anchor="end" font-size="13.8" textLength="13.30" lengthAdjust="spacingAndGlyphs">40</text>
<text x="67.20" y="113.0" text-anchor="middle" font-size="13.6" textLength="20" lengthAdjust="spacingAndGlyphs">200</text><text x="153.55" y="113.0" text-anchor="middle" font-size="13.6" textLength="20" lengthAdjust="spacingAndGlyphs">210</text><text x="239.90" y="113.0" text-anchor="middle" font-size="13.6" textLength="20" lengthAdjust="spacingAndGlyphs">220</text><text x="326.25" y="113.0" text-anchor="middle" font-size="13.6" textLength="20" lengthAdjust="spacingAndGlyphs">230</text><text x="412.60" y="113.0" text-anchor="middle" font-size="13.6" textLength="20" lengthAdjust="spacingAndGlyphs">240</text><text x="498.95" y="113.0" text-anchor="middle" font-size="13.6" textLength="20" lengthAdjust="spacingAndGlyphs">250</text>
<text x="283.0" y="142.2" text-anchor="middle" font-size="13" textLength="100.6" lengthAdjust="spacingAndGlyphs">Wavelenght [nm]</text>
<g transform="translate(15.3,207.5) rotate(-90)"><text x="0" y="0" font-size="13.8" textLength="19.6" lengthAdjust="spacingAndGlyphs">CD</text><text x="23.2" y="0" font-size="13.8" textLength="40.2" lengthAdjust="spacingAndGlyphs">[mdeg]</text></g>
<g stroke="#000" fill="none">
<line x1="329.7" y1="6.2" x2="365" y2="6.2" stroke-width="1.2"/>
<line x1="329.7" y1="24.9" x2="358.5" y2="24.9" stroke-width="1.2" stroke-dasharray="4.3 3.7"/>
<line x1="329.7" y1="49.2" x2="365" y2="49.2" stroke-width="1.1" stroke-dasharray="1.5 0.65"/>
<line x1="329.7" y1="73.2" x2="361" y2="73.2" stroke-width="1.1" stroke-dasharray="1.8 3"/>
</g>
<text x="368.0" y="10.9" font-size="13" textLength="27.4" lengthAdjust="spacingAndGlyphs">HSA</text>
<text x="368.0" y="30.1" font-size="13.4" textLength="70.8" lengthAdjust="spacingAndGlyphs">(Qui1+HSA)</text>
<text x="368.0" y="54.5" font-size="13.4" textLength="70.0" lengthAdjust="spacingAndGlyphs">(Qui2+HSA)</text>
<text x="368.0" y="78.5" font-size="13.4" textLength="70.0" lengthAdjust="spacingAndGlyphs">(Qui3+HSA)</text>
<text x="438.8" y="36.4" font-size="7.8" textLength="29.8" lengthAdjust="spacingAndGlyphs">complex</text>
<text x="438.6" y="60.8" font-size="7.8" textLength="29.8" lengthAdjust="spacingAndGlyphs">complex</text>
<text x="438.6" y="84.8" font-size="7.8" textLength="29.8" lengthAdjust="spacingAndGlyphs">complex</text>
</svg>
</body></html>
